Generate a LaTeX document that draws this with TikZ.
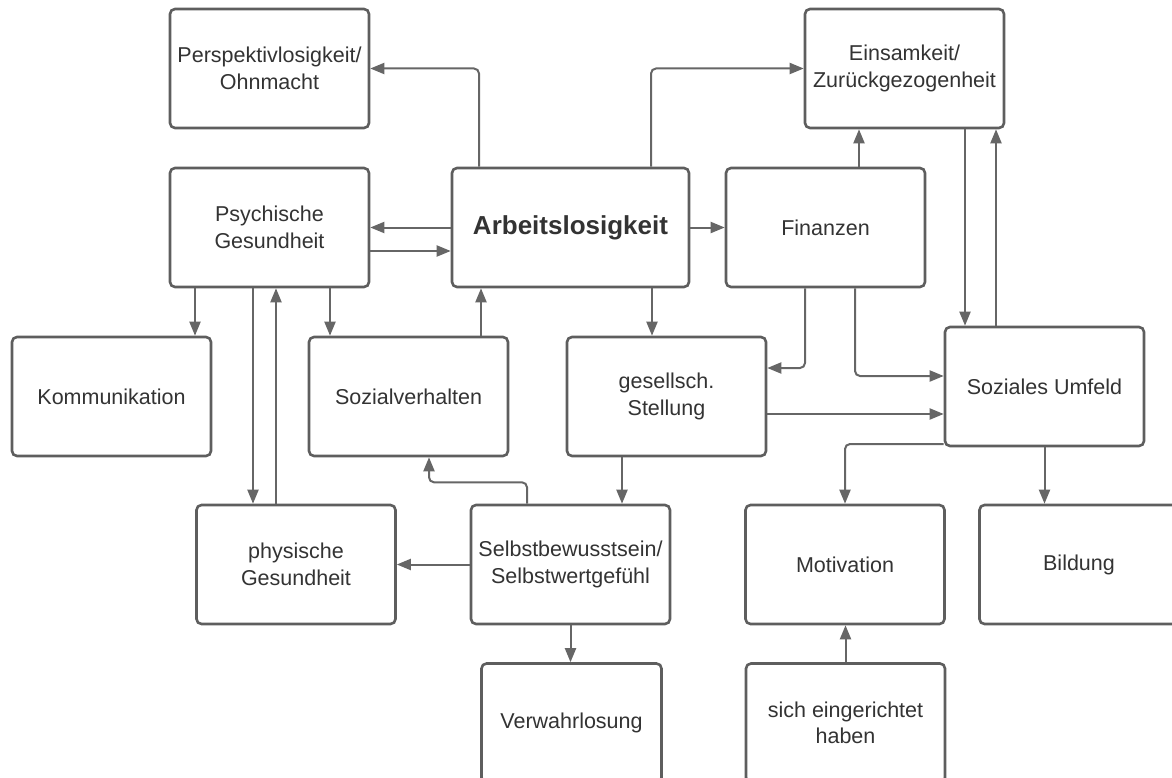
\documentclass[tikz,border=0pt]{standalone}
\usepackage{fontspec}
\setmainfont{Liberation Sans}
\usetikzlibrary{arrows.meta}
\definecolor{boxc}{HTML}{5E5E5E}
\definecolor{linec}{HTML}{666666}
\definecolor{textc}{HTML}{333333}
\begin{document}
\begin{tikzpicture}[x=1pt,y=-1pt,
  box/.style={draw=boxc, line width=2.6pt, rounded corners=5pt, fill=white,
    minimum width=199pt, minimum height=119pt, inner sep=0pt, align=center,
    text=textc, font=\fontsize{21.5}{26.5}\selectfont},
  conn/.style={draw=linec, line width=2pt, rounded corners=5pt,
    -{Triangle[length=14pt,width=11pt]}},
]
\useasboundingbox (0,0) rectangle (1172,778);
\clip (0,0) rectangle (1172,778);

% boxes
\node[box] (persp) at (269.5,68.5) {Perspektivlosigkeit/\\Ohnmacht};
\node[box] (eins) at (904.5,68.5) {Einsamkeit/\\Zurückgezogenheit};
\node[box] (psych) at (269.5,227.5) {Psychische\\Gesundheit};
\node[box, minimum width=237pt, font=\bfseries\fontsize{26}{30}\selectfont] (arb) at (570.5,227.5) {Arbeitslosigkeit};
\node[box] (fin) at (825.5,227.5) {Finanzen};
\node[box] (komm) at (111.5,396.5) {Kommunikation};
\node[box] (soz) at (408.5,396.5) {Sozialverhalten};
\node[box] (ges) at (666.5,396.5) {gesellsch.\\Stellung};
\node[box] (umf) at (1044.5,386.5) {Soziales Umfeld};
\node[box] (phys) at (296,564.5) {physische\\Gesundheit};
\node[box] (selbst) at (570.5,564.5) {Selbstbewusstsein/\\Selbstwertgefühl};
\node[box] (motiv) at (845,564.5) {Motivation};
\node[box] (bild) at (1079,564.5) {Bildung};
\node[box, minimum width=180pt] (verw) at (571.5,723) {Verwahrlosung};
\node[box] (sich) at (845.5,723) {sich eingerichtet\\haben};

% helper coordinates
\coordinate (g1) at ([xshift=-14.5pt]ges.north);
\coordinate (k1) at ([xshift=83.5pt]komm.north);
\coordinate (p1) at ([xshift=-43pt]phys.north);
\coordinate (p2) at ([xshift=-20pt]phys.north);
\coordinate (s1) at ([xshift=-78.5pt]soz.north);
\coordinate (s2) at ([xshift=72.5pt]soz.north);
\coordinate (s3) at ([xshift=20.5pt]soz.south);
\coordinate (g2) at ([xshift=-44.5pt]ges.south);
\coordinate (f1) at ([xshift=33.5pt]fin.north);
\coordinate (f2) at ([xshift=-20.5pt]fin.south);
\coordinate (f3) at ([xshift=29.5pt]fin.south);
\coordinate (g3) at ([yshift=-17.5pt]ges.east);
\coordinate (e1) at ([xshift=60.5pt]eins.south);
\coordinate (u1) at ([xshift=-48.5pt]umf.north);

% connectors
\draw[conn] ([xshift=-91.5pt]arb.north) |- (persp.east);
\draw[conn] ([xshift=80.5pt]arb.north) |- (eins.west);
\draw[conn] (arb.west) -- (psych.east);
\draw[conn] ([yshift=-23.5pt]psych.east) -- ([yshift=-23.5pt]arb.west);
\draw[conn] (arb.east) -- (fin.west);
\draw[conn] (arb.south -| g1) -- (g1);
\draw[conn] (psych.south -| k1) -- (k1);
\draw[conn] (psych.south -| p1) -- (p1);
\draw[conn] (p2) -- (psych.south -| p2);
\draw[conn] (psych.south -| s1) -- (s1);
\draw[conn] (s2) -- (arb.south -| s2);
\draw[conn] ([xshift=-43.5pt]selbst.north) |- ([yshift=-25pt]s3) -- (s3);
\draw[conn] (selbst.west) -- (phys.east);
\draw[conn] (g2) -- (selbst.north -| g2);
\draw[conn] (selbst.south) -- (selbst.south |- verw.north);
\draw[conn] (f1) -- (eins.south -| f1);
\draw[conn] (f2) |- ([yshift=28.5pt]ges.east);
\draw[conn] (f3) |- ([yshift=10.5pt]umf.west);
\draw[conn] (g3) -- (g3 -| umf.west);
\draw[conn] (e1) -- (umf.north -| e1);
\draw[conn] (u1) -- (eins.south -| u1);
\draw[conn] ([yshift=-57.5pt]umf.west) -| (motiv.north);
\draw[conn] (umf.south) -- (umf.south |- bild.north);
\draw[conn] (sich.north) -- (sich.north |- motiv.south);
\end{tikzpicture}
\end{document}
